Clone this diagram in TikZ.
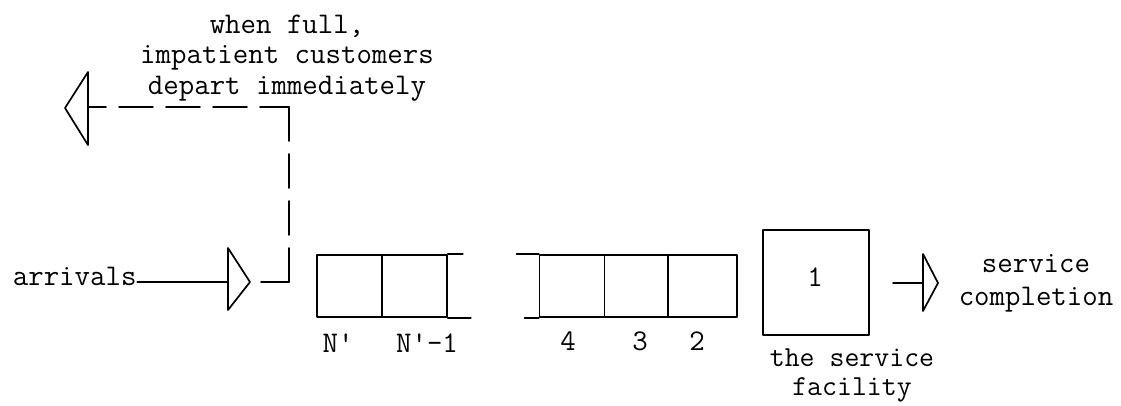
\documentclass[tikz,border=0pt]{standalone}
\usepackage{fontspec}
\newfontfamily\tw{Latin Modern Mono}
\begin{document}
\begin{tikzpicture}[x=1pt,y=-1pt,
  line width=1.7pt, line join=round, line cap=round,
  lbl/.style={font=\tw\fontsize{30}{34}\selectfont, inner sep=0pt, anchor=base},
  blk/.style={inner sep=0pt, anchor=base, align=center},
  cell/.style={draw, minimum width=65pt, minimum height=62pt, inner sep=0pt},
  dashline/.style={dash pattern=on 34pt off 13pt}]
\useasboundingbox (0,0) rectangle (1121,405);

% top text (anchor = baseline of last line)
\node[blk, font=\tw\fontsize{30}{30.5}\selectfont] (top) at (287,94)
  {when full,\\impatient customers\\depart immediately};

% arrivals
\node[lbl, anchor=base west] (arr) at (12,285) {arrivals};
\coordinate (inback) at (228,282);
\coordinate (intip) at (250,282);
\draw (arr.east |- inback) -- (inback);
\draw (228,248) -- (intip) -- (228,310) -- cycle;

% balking path
\coordinate (bstart) at (261,282);
\coordinate (bcorner1) at (289,282);
\coordinate (bcorner2) at (289,107);
\coordinate (outback) at (88,107);
\coordinate (outtip) at (65,108);
\draw (bstart) -- (bcorner1);
\draw[dashline] (bcorner1) -- (bcorner2);
\draw[dashline, dash phase=5pt] (bcorner2) -- (outback);
\draw (88,72) -- (outtip) -- (88,145) -- cycle;

% queue group 1
\node[cell] (cN) at (349.5,286) {};
\node[cell] (cN1) at (414.5,286) {};
\draw (cN1.north east) -- ++(15,0);
\draw (cN1.south east) -- ++(23,0);
\node[lbl] (lN) at (338,352) {N'};
\node[lbl] (lN1) at (427,352) {N'-1};

% queue group 2
\node[cell] (c4) at (572,286) {};
\node[cell, minimum width=63pt] (c3) at (636,286) {};
\node[cell, minimum width=69pt] (c2) at (702.5,286) {};
\draw (c4.north west) -- ++(-22,0);
\draw (c4.south west) -- ++(-14,0);
\node[lbl] (l4) at (568,350) {4};
\node[lbl] (l3) at (640,350) {3};
\node[lbl] (l2) at (697,350) {2};

% service facility
\node[draw, minimum width=106pt, minimum height=105pt, inner sep=0pt] (srv) at (816,282.5) {};
\node[lbl] (one) at (815,286) {1};
\node[blk, font=\tw\fontsize{29}{29}\selectfont] (sf) at (852,395) {the service\\facility};

% service completion
\coordinate (oback) at (923,283);
\coordinate (otip) at (938,283);
\draw (893,283) -- (oback);
\draw (923,254) -- (otip) -- (923,311) -- cycle;
\node[blk, font=\tw\fontsize{30}{33}\selectfont] (sc) at (1036,305) {service\\completion};
\end{tikzpicture}
\end{document}
